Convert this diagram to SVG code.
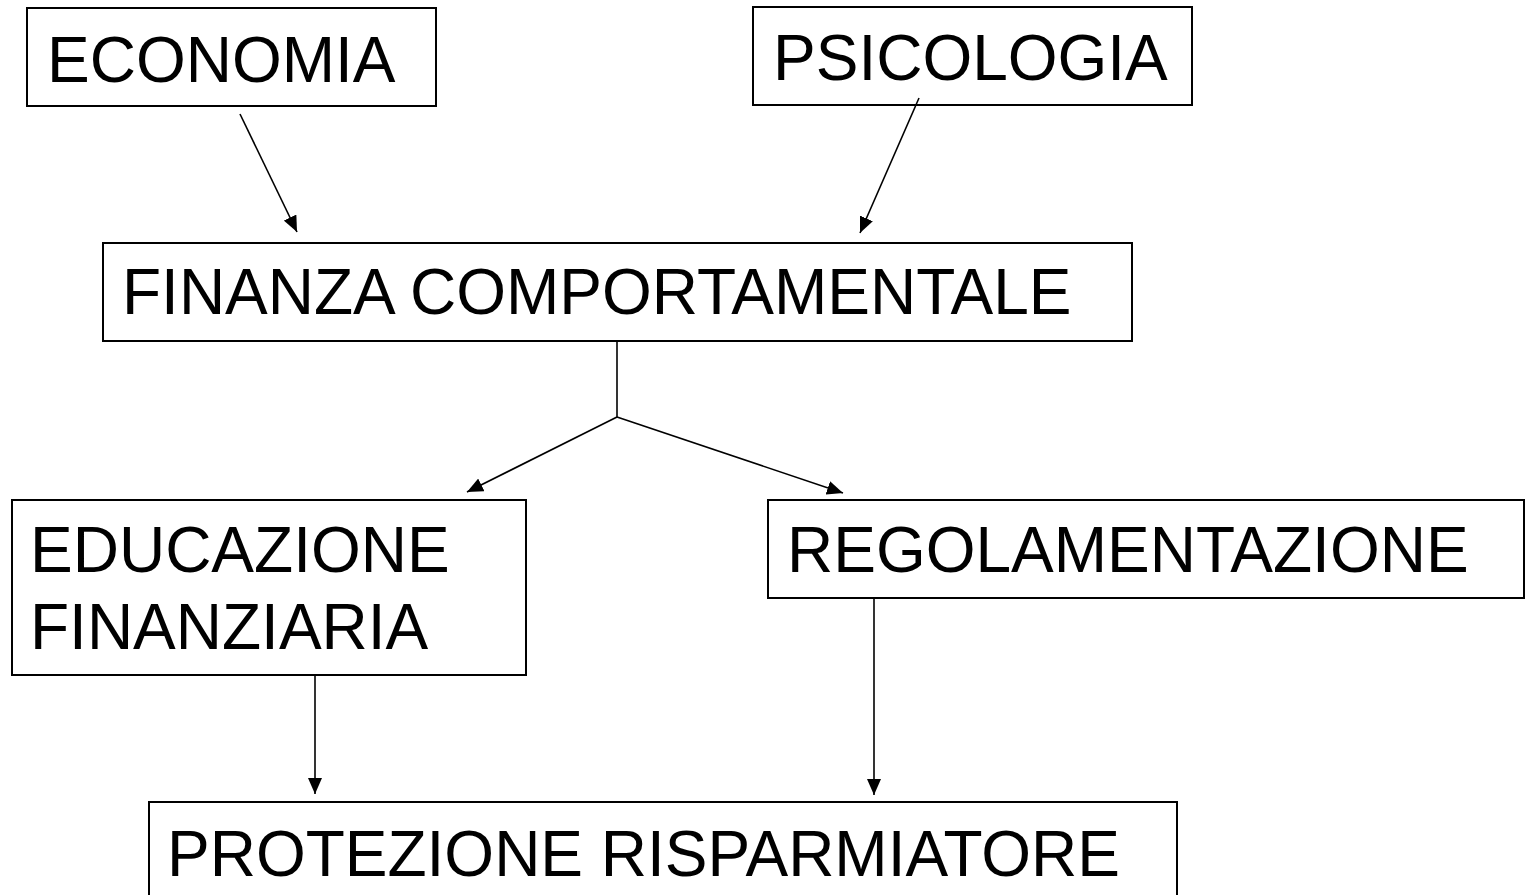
<svg xmlns="http://www.w3.org/2000/svg" width="1526" height="895" viewBox="0 0 1526 895">
<style>
.box{fill:#fff;stroke:#000;stroke-width:2}
.lbl{font-family:"Liberation Sans",Arial,sans-serif;font-size:64px;fill:#000}
.con{stroke:#000;stroke-width:1.6;fill:none}
</style>
<defs>
<marker id="ah" markerUnits="userSpaceOnUse" markerWidth="18" markerHeight="14" refX="16" refY="7" orient="auto">
<path d="M0,0 L16,7 L0,14 Z" fill="#000"/>
</marker>
</defs>
<rect width="1526" height="895" fill="#fff"/>
<g id="economia"><rect class="box" x="27" y="8" width="409" height="98"/><text class="lbl" x="47" y="82">ECONOMIA</text></g>
<g id="psicologia"><rect class="box" x="753" y="7" width="439" height="98"/><text class="lbl" x="773" y="80">PSICOLOGIA</text></g>
<g id="finanza"><rect class="box" x="103" y="243" width="1029" height="98"/><text class="lbl" x="122" y="314">FINANZA COMPORTAMENTALE</text></g>
<g id="educazione"><rect class="box" x="12" y="500" width="514" height="175"/><text class="lbl" x="30" y="572">EDUCAZIONE</text><text class="lbl" x="30" y="649">FINANZIARIA</text></g>
<g id="regolamentazione"><rect class="box" x="768" y="500" width="756" height="98"/><text class="lbl" x="787" y="572">REGOLAMENTAZIONE</text></g>
<g id="protezione"><rect class="box" x="149" y="802" width="1028" height="100"/><text class="lbl" x="167" y="876">PROTEZIONE RISPARMIATORE</text></g>
<g id="connectors">
<line class="con" x1="240" y1="114" x2="297" y2="232" marker-end="url(#ah)"/>
<line class="con" x1="919" y1="98" x2="860" y2="233" marker-end="url(#ah)"/>
<polyline class="con" points="617,341 617,417"/>
<line class="con" x1="617" y1="417" x2="467" y2="492" marker-end="url(#ah)"/>
<line class="con" x1="617" y1="417" x2="843" y2="493" marker-end="url(#ah)"/>
<line class="con" x1="315" y1="675" x2="315" y2="794" marker-end="url(#ah)"/>
<line class="con" x1="874" y1="598" x2="874" y2="795" marker-end="url(#ah)"/>
</g>
</svg>
